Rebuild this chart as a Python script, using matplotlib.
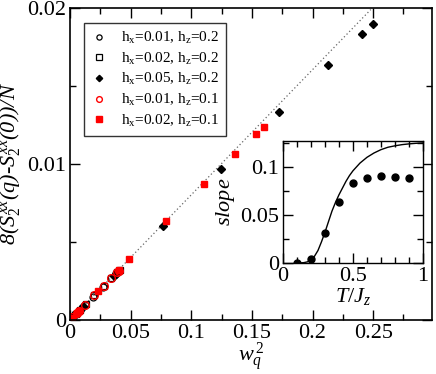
import matplotlib
matplotlib.use('Agg')
from matplotlib import pyplot as plt
from matplotlib.ticker import MultipleLocator

plt.rcParams['font.family'] = ['Liberation Serif', 'DejaVu Serif']
plt.rcParams['mathtext.fontset'] = 'custom'
plt.rcParams['mathtext.rm'] = 'Liberation Serif'
plt.rcParams['mathtext.it'] = 'Liberation Serif:italic'
plt.rcParams['mathtext.bf'] = 'Liberation Serif:bold'

# main panel data: w_q^2 vs 8(S2(q)-S2(0))/N
x_c1 = [0.0005, 0.002, 0.0045, 0.008, 0.0125, 0.019, 0.027, 0.034, 0.038, 0.040]
y_c1 = [0.00004, 0.00016, 0.00036, 0.00064, 0.00099, 0.00150, 0.00213, 0.00268, 0.00300, 0.00316]

x_s1 = [0.0005, 0.0025, 0.005, 0.0085, 0.013, 0.020, 0.028, 0.034, 0.039, 0.041]
y_s1 = [0.00004, 0.00020, 0.00040, 0.00067, 0.00103, 0.00158, 0.00221, 0.00268, 0.00308, 0.00323]

x_d1 = [0.001, 0.004, 0.007, 0.009, 0.011, 0.036, 0.038, 0.0765, 0.1243, 0.1727, 0.2131, 0.2404, 0.250]
y_d1 = [0.00008, 0.00031, 0.00055, 0.00071, 0.00087, 0.00282, 0.00298, 0.00600, 0.00968, 0.01333, 0.01633, 0.01831, 0.01900]

x_c2 = [0.0005, 0.002, 0.006, 0.0075, 0.0125, 0.020, 0.028, 0.034, 0.039, 0.040]
y_c2 = [0.00004, 0.00016, 0.00047, 0.00059, 0.00099, 0.00158, 0.00221, 0.00269, 0.00308, 0.00316]

x_s2 = [0.0, 0.0015, 0.006, 0.0075, 0.023, 0.040, 0.049, 0.0792, 0.1106, 0.136, 0.1537, 0.160]
y_s2 = [0.0, 0.00012, 0.00048, 0.00060, 0.00185, 0.00322, 0.00389, 0.00635, 0.00870, 0.01064, 0.01190, 0.01240]

fit_x = [0.0, 0.248]
fit_y = [0.0, 0.0199]

# inset data: slope vs T/Jz
T_pts = [0.1, 0.2, 0.3, 0.4, 0.5, 0.6, 0.7, 0.8, 0.9]
slope_pts = [0.0, 0.004, 0.031, 0.064, 0.083, 0.089, 0.091, 0.090, 0.089]

T_line = [0.10, 0.125, 0.15, 0.175, 0.20, 0.225, 0.25, 0.275, 0.30, 0.325, 0.35, 0.375, 0.40,
          0.425, 0.45, 0.475, 0.50, 0.55, 0.60, 0.65, 0.70, 0.75, 0.80, 0.85, 0.90, 0.95, 1.00]
slope_line = [0.0, 0.0001, 0.0004, 0.0012, 0.003, 0.007, 0.013, 0.022, 0.032, 0.043, 0.054, 0.063, 0.071,
              0.078, 0.085, 0.091, 0.096, 0.104, 0.110, 0.1145, 0.118, 0.1205, 0.122, 0.1232, 0.124, 0.1246, 0.125]

labels = [r'h$_{\rm x}$=0.01, h$_{\rm z}$=0.2',
          r'h$_{\rm x}$=0.02, h$_{\rm z}$=0.2',
          r'h$_{\rm x}$=0.05, h$_{\rm z}$=0.2',
          r'h$_{\rm x}$=0.01, h$_{\rm z}$=0.1',
          r'h$_{\rm x}$=0.02, h$_{\rm z}$=0.1']

fig = plt.figure(figsize=(4.36, 3.74), dpi=100)
ax = fig.add_axes([0.1606, 0.1444, 0.8302, 0.8342])

ax.plot(fit_x, fit_y, ls=(0, (1, 2)), color='#666666', lw=0.9, zorder=1)
ax.plot(x_c1, y_c1, 'o', ms=5, mfc='none', mec='black', mew=0.9, ls='none', label=labels[0])
ax.plot(x_s1, y_s1, 's', ms=5, mfc='none', mec='black', mew=0.9, ls='none', label=labels[1])
ax.plot(x_d1, y_d1, 'D', ms=4.3, color='black', ls='none', label=labels[2])
ax.plot(x_c2, y_c2, 'o', ms=5.5, mfc='none', mec='red', mew=1.0, ls='none', label=labels[3])
ax.plot(x_s2, y_s2, 's', ms=5, color='red', ls='none', label=labels[4])

ax.set_xlim(0, 0.2985)
ax.set_ylim(0, 0.02)
ax.set_xticks([0, 0.05, 0.1, 0.15, 0.2, 0.25])
ax.set_xticklabels(['0', '0.05', '0.1', '0.15', '0.2', '0.25'])
ax.set_yticks([0, 0.01, 0.02])
ax.set_yticklabels(['0', '0.01', '0.02'])
ax.xaxis.set_minor_locator(MultipleLocator(0.025))
ax.yaxis.set_minor_locator(MultipleLocator(0.005))
ax.tick_params(which='both', direction='in', top=True, right=True, labelsize=16, pad=3)
ax.tick_params(which='major', length=7, width=1)
ax.tick_params(which='minor', length=4, width=1)
for sp in ax.spines.values():
    sp.set_linewidth(1.2)

ax.set_xlabel(r'$w_q^{\,2}$', fontsize=16)
ax.xaxis.set_label_coords(0.5, -0.066)
ax.set_ylabel(r'8($S_2^{xx}$(q)-$S_2^{xx}$(0))/N', fontsize=16, fontstyle='italic', labelpad=2)

leg = ax.legend(loc='upper left', bbox_to_anchor=(0.0387, 0.952), fontsize=11, frameon=True,
                fancybox=False, edgecolor='black', handlelength=1.0, handletextpad=1.0,
                borderpad=0.45, labelspacing=0.3, markerscale=0.75, borderaxespad=0)
leg.get_frame().set_linewidth(1.0)

# inset
ins = fig.add_axes([0.649, 0.2968, 0.3211, 0.3262])
ins.plot(T_line, slope_line, color='black', lw=1.0)
ins.plot(T_pts, slope_pts, 'o', color='black', ms=5, ls='none')
ins.set_xlim(0, 1)
ins.set_ylim(0, 0.127)
ins.set_xticks([0, 0.5, 1])
ins.set_xticklabels(['0', '0.5', '1'])
ins.set_yticks([0, 0.05, 0.1])
ins.set_yticklabels(['0', '0.05', '0.1'])
ins.xaxis.set_minor_locator(MultipleLocator(0.1))
ins.yaxis.set_minor_locator(MultipleLocator(0.025))
ins.tick_params(which='both', direction='in', top=True, right=True, labelsize=16, pad=3)
ins.tick_params(which='major', length=7, width=1)
ins.tick_params(which='minor', length=4, width=1)
for sp in ins.spines.values():
    sp.set_linewidth(1.0)
ins.set_xlabel(r'$T/J_z$', fontsize=16, labelpad=0)
ins.set_ylabel(r'$slope$', fontsize=16, labelpad=2)

fig.savefig('out.png', dpi=100)
